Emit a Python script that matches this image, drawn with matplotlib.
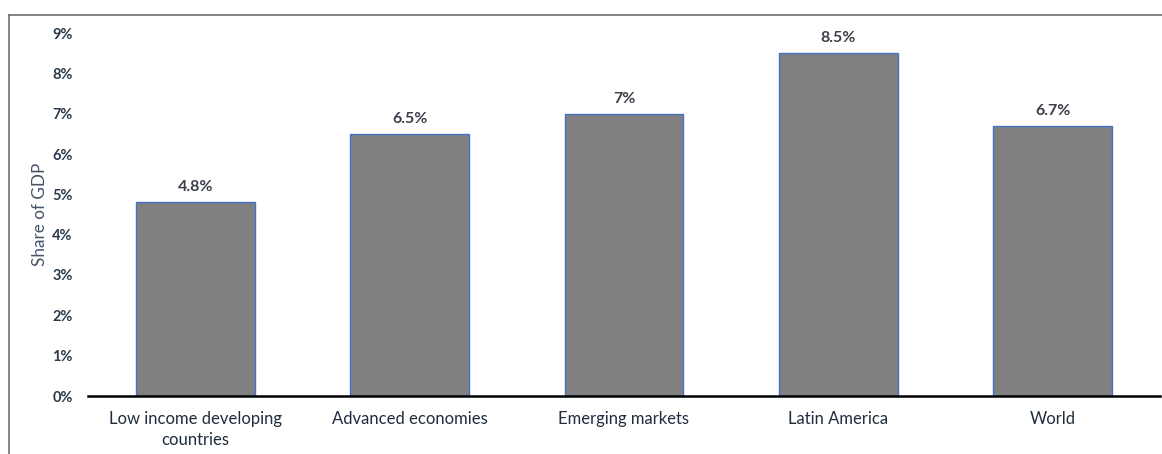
import matplotlib
matplotlib.use("Agg")
import matplotlib.pyplot as plt
from matplotlib.lines import Line2D

categories = ["Low income developing\ncountries", "Advanced economies", "Emerging markets", "Latin America", "World"]
values = [4.8, 6.5, 7.0, 8.5, 6.7]
value_labels = ["4.8%", "6.5%", "7%", "8.5%", "6.7%"]
yticks = [0, 1, 2, 3, 4, 5, 6, 7, 8, 9]
ytick_labels = ["0%", "1%", "2%", "3%", "4%", "5%", "6%", "7%", "8%", "9%"]

plt.rcParams['font.family'] = ['Lato', 'DejaVu Sans']

W, H = 1162, 454
fig = plt.figure(figsize=(W/100, H/100), dpi=100)
ax = fig.add_axes([88/W, 58/H, (1160-88)/W, (396-33)/H])

x = list(range(len(categories)))
ax.bar(x, values, width=0.555, color="#808080", edgecolor="#4472C4", linewidth=1.0, zorder=2)
for xi, v, lab in zip(x, values, value_labels):
    ax.text(xi, v + 0.2, lab, ha="center", va="bottom", fontsize=11.5, fontweight="bold", color="#3A3F4A")

ax.set_xlim(-0.5, len(categories) - 0.5)
ax.set_ylim(0, 9)
ax.set_yticks(yticks)
ax.set_yticklabels(ytick_labels, fontsize=10.5, fontweight="bold", color="#2B3A4A")
ax.set_xticks(x)
ax.set_xticklabels(categories, fontsize=12, color="#1F2D3D", linespacing=1.4)
ax.tick_params(axis="both", length=0)
ax.tick_params(axis="y", pad=11)
ax.tick_params(axis="x", pad=11)
for s in ["top", "right", "left"]:
    ax.spines[s].set_visible(False)
ax.spines["bottom"].set_color("black")
ax.spines["bottom"].set_linewidth(1.8)
ax.set_ylabel("Share of GDP", fontsize=12.3, color="#44546A", va="center")
ax.yaxis.set_label_coords(-0.045, 0.5)

# outer frame lines (top and left)
fig.add_artist(Line2D([9/W, 1.0], [1 - 15/H, 1 - 15/H], transform=fig.transFigure, color="#6E6E6E", linewidth=1.2))
fig.add_artist(Line2D([9/W, 9/W], [0, 1 - 15/H], transform=fig.transFigure, color="#6E6E6E", linewidth=1.2))

fig.savefig("out.png", dpi=100)
